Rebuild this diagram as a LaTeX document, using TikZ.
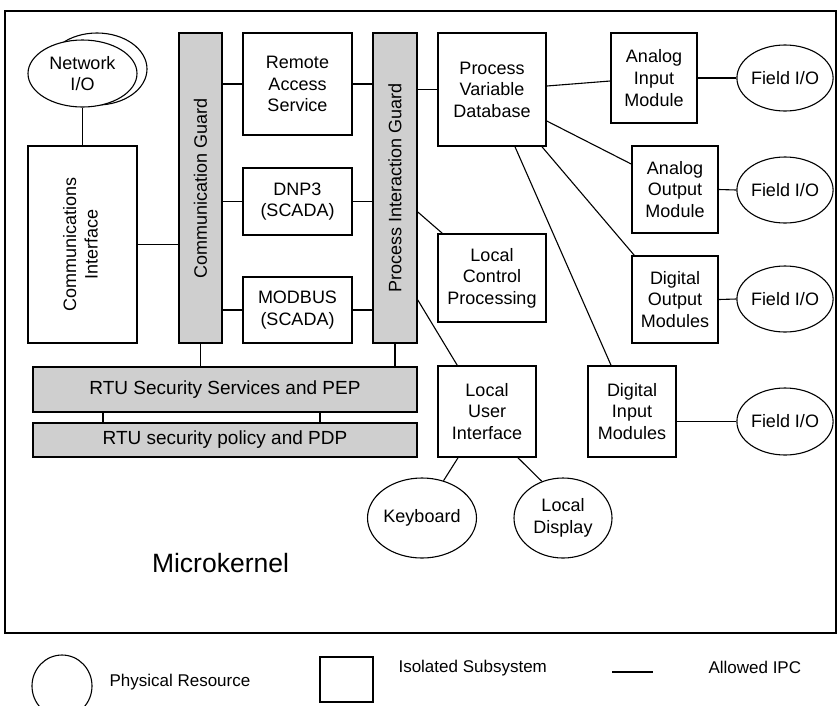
\documentclass[tikz,border=0pt]{standalone}
\usepackage{fontspec}
\setmainfont{Liberation Sans}
\usetikzlibrary{shapes.geometric}
\begin{document}
\begin{tikzpicture}[x=1pt,y=-1pt,
  txt/.style={font=\fontsize{18}{21.6}\selectfont, align=center},
  sub/.style={txt, draw, line width=1.6pt, fill=white, rectangle, inner sep=0pt},
  guard/.style={sub, fill=black!19},
  layer/.style={guard, font=\fontsize{19}{22}\selectfont},
  res/.style={txt, draw, line width=1.1pt, fill=white, ellipse, inner sep=0pt},
  ipc/.style={line width=1.1pt},
  ipcthick/.style={line width=2.4pt}]
\useasboundingbox (0,0) rectangle (837,705);

% microkernel frame
\draw[line width=1.4pt] (5,11) rectangle (836,633);

% network side
\node[res, minimum width=100pt, minimum height=72pt] (netback) at (97,69) {};
\node[res, minimum width=109pt, minimum height=67pt] (net) at (82.5,73.5) {Network\\I/O};
\node[sub, minimum width=109pt, minimum height=197pt] (ci) at (82.5,244.5)
  {\rotatebox{90}{\begin{tabular}{c}Communications\\Interface\end{tabular}}};

% guards
\node[guard, minimum width=43pt, minimum height=310pt] (cg) at (200.5,188)
  {\rotatebox{90}{Communication Guard}};
\node[guard, minimum width=44pt, minimum height=310pt] (pig) at (395,188)
  {\rotatebox{90}{Process Interaction Guard}};

% protocol subsystems
\node[sub, minimum width=109pt, minimum height=102pt] (ras) at (297.5,84) {Remote\\Access\\Service};
\node[sub, minimum width=109pt, minimum height=67pt] (dnp) at (297.5,201.5) {DNP3\\(SCADA)};
\node[sub, minimum width=109pt, minimum height=66pt] (mod) at (297.5,310) {MODBUS\\(SCADA)};

% process side
\node[sub, minimum width=108pt, minimum height=113pt] (pvd) at (492,89.5) {Process\\Variable\\Database};
\node[sub, minimum width=108pt, minimum height=88pt] (lcp) at (492,278) {Local\\Control\\Processing};
\node[sub, minimum width=98pt, minimum height=91pt] (lui) at (487,411.5) {Local\\User\\Interface};
\node[sub, minimum width=86pt, minimum height=90pt] (aim) at (654,78) {Analog\\Input\\Module};
\node[sub, minimum width=86pt, minimum height=87pt] (aom) at (675,189.5) {Analog\\Output\\Module};
\node[sub, minimum width=86pt, minimum height=87pt] (dom) at (675,299.5) {Digital\\Output\\Modules};
\node[sub, minimum width=88pt, minimum height=91pt] (dim) at (632,411.5) {Digital\\Input\\Modules};

% physical resources
\node[res, minimum width=82pt, minimum height=66pt] (f1) at (785,78) {Field I/O};
\node[res, minimum width=82pt, minimum height=66pt] (f2) at (785,190) {Field I/O};
\node[res, minimum width=82pt, minimum height=66pt] (f3) at (785,299) {Field I/O};
\node[res, minimum width=82pt, minimum height=67pt] (f4) at (785,421.5) {Field I/O};
\node[res, minimum width=98pt, minimum height=80pt] (kb) at (422,518) {Keyboard};
\node[res, minimum width=98pt, minimum height=80pt] (ld) at (563,518) {Local\\Display};

% security layers
\node[layer, minimum width=384pt, minimum height=45pt] (sec) at (225,389.5) {RTU Security Services and PEP};
\node[layer, minimum width=384pt, minimum height=34pt] (pol) at (225,440) {RTU security policy and PDP};

\node[font=\fontsize{26.5}{30}\selectfont] (mk) at (220.5,563) {Microkernel};

% allowed IPC
\draw[ipc] (net.south) -- (ci.north);
\draw[ipc] (ci.east) -- (cg.west |- ci.east);
\draw[ipc] (cg.east |- ras.west) -- (ras.west);
\draw[ipc] (cg.east |- dnp.west) -- (dnp.west);
\draw[ipc] (cg.east |- mod.west) -- (mod.west);
\draw[ipc] (ras.east) -- (pig.west |- ras.east);
\draw[ipc] (dnp.east) -- (pig.west |- dnp.east);
\draw[ipc] (mod.east) -- (pig.west |- mod.east);
\draw[ipc] (pig.east |- pvd.west) -- (pvd.west);
\draw[ipc] ([yshift=-24pt]pig.east) -- ([xshift=5pt]lcp.north west);
\draw[ipc] ([yshift=-112pt]pig.east) -- ([xshift=20pt]lui.north west);
\draw[ipc] ([yshift=3.5pt]pvd.east) -- ([yshift=-3pt]aim.west);
\draw[ipc] ([yshift=-31.5pt]pvd.east) -- ([yshift=25.5pt]aom.west);
\draw[ipc] ([xshift=50pt]pvd.south) -- ([xshift=3pt]dom.north west);
\draw[ipc] ([xshift=23pt]pvd.south) -- ([xshift=-21pt]dim.north);
\draw[ipc] (aim.east) -- (f1.west);
\draw[ipc] (aom.east) -- (f2.west);
\draw[ipc] (dom.east) -- (f3.west);
\draw[ipc] (dim.east |- f4.west) -- (f4.west);
\draw[ipc] ([xshift=-29pt]lui.south) -- (kb.60);
\draw[ipc] ([xshift=31pt]lui.south) -- (ld.120);
\draw[ipc] (cg.south) -- (cg.south |- sec.north);
\draw[ipc] (pig.south) -- (pig.south |- sec.north);
\draw[ipcthick] ([xshift=-122pt]sec.south) -- ([xshift=-122pt]pol.north);
\draw[ipcthick] ([xshift=95pt]sec.south) -- ([xshift=95pt]pol.north);

% legend
\node[res, minimum width=60pt, minimum height=62pt] (lgres) at (62,686) {};
\node[anchor=west, font=\fontsize{17}{20}\selectfont] (lgrest) at (106,682) {Physical Resource};
\node[sub, minimum width=53pt, minimum height=45pt] (lgsub) at (346.5,679.5) {};
\node[anchor=west, font=\fontsize{17}{20}\selectfont] (lgsubt) at (395,668) {Isolated Subsystem};
\coordinate (lga) at (612,672);
\coordinate (lgb) at (653,672);
\draw[ipc] (lga) -- (lgb);
\node[anchor=west, font=\fontsize{17}{20}\selectfont] (lgipct) at (705,667) {Allowed IPC};
\end{tikzpicture}
\end{document}
